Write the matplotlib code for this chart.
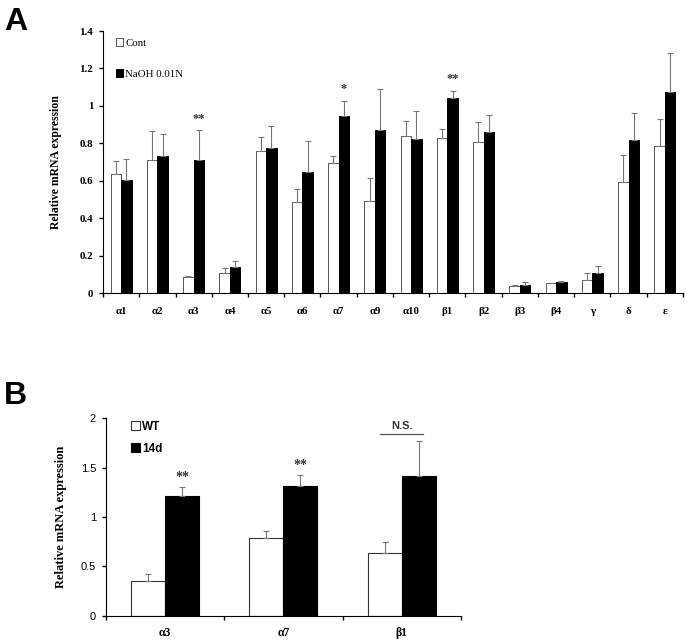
import numpy as np
import matplotlib
matplotlib.use('Agg')
import matplotlib.pyplot as plt

# Panel A datos
genesA = ['α1', 'α2', 'α3', 'α4', 'α5', 'α6', 'α7', 'α9', 'α10',
          'β1', 'β2', 'β3', 'β4', 'γ', 'δ', 'ε']
cont = [0.635, 0.713, 0.085, 0.106, 0.759, 0.484, 0.697, 0.489, 0.840,
        0.826, 0.809, 0.039, 0.053, 0.071, 0.594, 0.787]
cont_err = [0.069, 0.152, 0.005, 0.025, 0.073, 0.071, 0.037, 0.124, 0.080,
            0.052, 0.106, 0.005, 0.003, 0.035, 0.144, 0.142]
naoh = [0.606, 0.730, 0.709, 0.137, 0.777, 0.644, 0.945, 0.872, 0.823,
        1.040, 0.862, 0.044, 0.059, 0.106, 0.816, 1.073]
naoh_err = [0.109, 0.118, 0.160, 0.035, 0.118, 0.168, 0.083, 0.218, 0.152,
            0.042, 0.090, 0.016, 0.007, 0.039, 0.145, 0.207]
starsA = {2: '**', 6: '*', 9: '**'}

# Panel B datos
genesB = ['α3', 'α7', 'β1']
wt = [0.348, 0.784, 0.632]
wt_err = [0.074, 0.071, 0.115]
d14 = [1.213, 1.311, 1.419]
d14_err = [0.094, 0.118, 0.348]
starsB = {0: '**', 1: '**'}

serif = 'Liberation Serif'
sans = 'Liberation Sans'

fig = plt.figure(figsize=(6.87, 6.42), dpi=100)

# ---------- Panel A ----------
axA = fig.add_axes([0.150, 0.5436, 0.844, 0.4081])
x = np.arange(len(genesA))
w = 0.29
ekw = dict(ecolor='#777777', elinewidth=0.8, capsize=2, capthick=0.8)
b1 = axA.bar(x - w/2, cont, w, color='white', edgecolor='#555555', linewidth=0.7,
             yerr=[np.zeros(len(cont)), cont_err], error_kw=ekw, label='Cont')
b2 = axA.bar(x + w/2, naoh, w, color='black', edgecolor='black', linewidth=0.7,
             yerr=[np.zeros(len(naoh)), naoh_err], error_kw=ekw, label='NaOH 0.01N')
for i, s in starsA.items():
    axA.text(x[i] + w/2, naoh[i] + naoh_err[i] + 0.03, s, ha='center', va='bottom',
             fontsize=9, fontweight='bold', family=serif, color='#333333')
axA.set_xlim(-0.5, len(genesA) - 0.5)
axA.set_ylim(0, 1.4)
axA.set_yticks([0, 0.2, 0.4, 0.6, 0.8, 1, 1.2, 1.4])
axA.set_yticklabels(['0', '0.2', '0.4', '0.6', '0.8', '1', '1.2', '1.4'])
axA.set_xticks(np.arange(len(genesA) + 1) - 0.5)
axA.set_xticklabels([])
axA.set_xticks(x, minor=True)
axA.set_xticklabels(genesA, minor=True)
axA.tick_params(axis='x', which='minor', length=0, pad=10)
axA.tick_params(axis='x', which='major', length=3, width=1)
axA.tick_params(axis='y', length=3, width=1, pad=4)
for lab in axA.get_xticklabels(minor=True) + axA.get_yticklabels():
    lab.set_family(serif)
    lab.set_fontweight('bold')
    lab.set_fontsize(7.8)
axA.set_ylabel('Relative mRNA expression', family=serif, fontweight='bold', fontsize=8.5, labelpad=13)
axA.spines['top'].set_visible(False)
axA.spines['right'].set_visible(False)
axA.legend(handles=[b1, b2], loc='upper left', bbox_to_anchor=(0.005, 1.01), frameon=False,
           handlelength=0.7, handleheight=0.7, handletextpad=0.2, labelspacing=2.0,
           prop={'family': serif, 'size': 7.8})

# ---------- Panel B ----------
axB = fig.add_axes([0.154, 0.041, 0.517, 0.3074])
xb = np.arange(len(genesB))
wb = 0.287
b3 = axB.bar(xb - wb/2, wt, wb, color='white', edgecolor='#333333', linewidth=0.8,
             yerr=[np.zeros(len(wt)), wt_err], error_kw=ekw, label='WT')
b4 = axB.bar(xb + wb/2, d14, wb, color='black', edgecolor='black', linewidth=0.8,
             yerr=[np.zeros(len(d14)), d14_err], error_kw=ekw, label='14d')
for i, s in starsB.items():
    axB.text(xb[i] + wb/2, d14[i] + d14_err[i] + 0.03, s, ha='center', va='bottom',
             fontsize=10, fontweight='bold', family=serif, color='#333333')
axB.plot([xb[2] - 0.18, xb[2] + 0.18], [1.84, 1.84], color='#555555', lw=0.9)
axB.text(xb[2], 1.87, 'N.S.', ha='center', va='bottom', fontsize=8, fontweight='bold',
         family=sans, color='#333333')
axB.set_xlim(-0.5, len(genesB) - 0.5)
axB.set_ylim(0, 2)
axB.set_yticks([0, 0.5, 1, 1.5, 2])
axB.set_yticklabels(['0', '0.5', '1', '1.5', '2'])
axB.set_xticks(np.arange(len(genesB) + 1) - 0.5)
axB.set_xticklabels([])
axB.set_xticks(xb, minor=True)
axB.set_xticklabels(genesB, minor=True)
axB.tick_params(axis='x', which='minor', length=0, pad=8)
axB.tick_params(axis='x', which='major', length=3, width=1)
axB.tick_params(axis='y', length=3, width=1, pad=4)
for lab in axB.get_xticklabels(minor=True):
    lab.set_family(serif)
    lab.set_fontweight('bold')
    lab.set_fontsize(8.5)
for lab in axB.get_yticklabels():
    lab.set_family(sans)
    lab.set_fontsize(8)
axB.set_ylabel('Relative mRNA expression', family=serif, fontweight='bold', fontsize=9, labelpad=10)
axB.spines['top'].set_visible(False)
axB.spines['right'].set_visible(False)
axB.legend(handles=[b3, b4], loc='upper left', bbox_to_anchor=(0.04, 1.04), frameon=False,
           handlelength=0.8, handleheight=0.8, handletextpad=0.2, labelspacing=0.8,
           prop={'family': sans, 'size': 8.5, 'weight': 'bold'})

# Letras de panel
fig.text(0.006, 0.953, 'A', family=sans, fontweight='bold', fontsize=23)
fig.text(0.006, 0.370, 'B', family=sans, fontweight='bold', fontsize=23)

fig.savefig('out.png', dpi=100)
